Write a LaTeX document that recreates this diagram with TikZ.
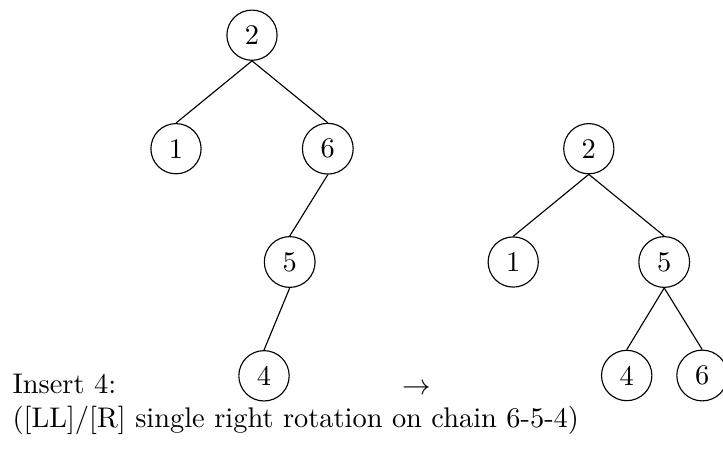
\documentclass[tikz,border=0pt]{standalone}
\begin{document}
\begin{tikzpicture}[x=0.3521pt,y=-0.3521pt,
  tnode/.style={draw,circle},
  lbl/.style={inner sep=0pt,anchor=base west}]
\useasboundingbox (0,0) rectangle (723,450);
% left tree
\node[tnode] (a2) at (252,35.2) {2};
\node[tnode] (a1) at (176,148.7) {1};
\node[tnode] (a6) at (327.8,148.7) {6};
\node[tnode] (a5) at (289.7,262) {5};
\node[tnode] (a4) at (264,375.8) {4};
\draw (a2.south) -- (a1.north);
\draw (a2.south) -- (a6.north);
\draw (a6.south) -- (a5.north);
\draw (a5.south) -- (a4.north);
% right tree
\node[tnode] (b2) at (588.8,148.7) {2};
\node[tnode] (b1) at (513.2,262) {1};
\node[tnode] (b5) at (664.2,262) {5};
\node[tnode] (b4) at (626.7,375.5) {4};
\node[tnode] (b6) at (702.2,375.5) {6};
\draw (b2.south) -- (b1.north);
\draw (b2.south) -- (b5.north);
\draw (b5.south) -- (b4.north);
\draw (b5.south) -- (b6.north);
% texts
\node[lbl] (t1) at (12,393.5) {Insert 4:};
\node[inner sep=0pt,anchor=base] (arr) at (416.7,394) {$\rightarrow$};
\node[lbl] (t2) at (12,427) {([LL]/[R] single right rotation on chain 6-5-4)};
\end{tikzpicture}
\end{document}
